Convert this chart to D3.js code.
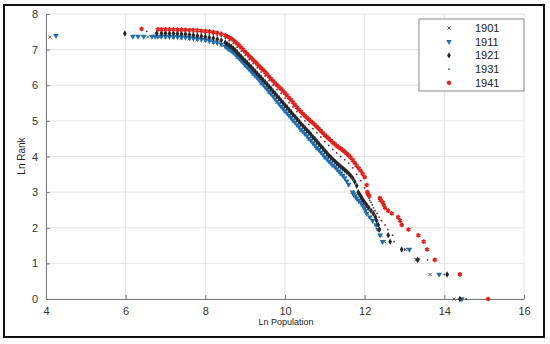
<!DOCTYPE html>
<html>
<head>
<meta charset="utf-8">
<script src="https://cdn.jsdelivr.net/npm/d3@7"></script>
<style>
  body { margin: 0; background: #fff; }
  text { font-family: "Liberation Sans", Arial, sans-serif; }
  .axis path, .axis line { stroke: #7a7a7a; }
  .axis text { fill: #333; font-size: 11px; }
  .grid line { stroke: #e4e4e4; }
</style>
</head>
<body>
<svg id="chart" width="550" height="344"></svg>
<script>
// years shown in the legend
const years = ["1901", "1911", "1921", "1931", "1941"];
const xTicks = [4, 6, 8, 10, 12, 14, 16];
const yTicks = [0, 1, 2, 3, 4, 5, 6, 7, 8];

// ln(rank) of the 20 largest towns, shared by all years
const tailLnRank = [0, 0.69, 1.10, 1.39, 1.61, 1.79, 1.95, 2.08, 2.20, 2.30,
                    2.40, 2.48, 2.56, 2.64, 2.71, 2.77, 2.83, 2.89, 2.94, 3.00];
// ln(population) of those 20 towns, per year
const tail1901 = [14.24, 13.64, 13.29, 13.03, 12.50, 12.40, 12.33, 12.27, 12.20, 12.12,
                  12.07, 12.02, 11.97, 11.93, 11.88, 11.84, 11.80, 11.76, 11.72, 11.68];
const tail1911 = [14.44, 13.87, 13.33, 13.12, 12.45, 12.39, 12.34, 12.29, 12.20, 12.13,
                  12.05, 12.02, 12.00, 11.95, 11.90, 11.85, 11.80, 11.76, 11.72, 11.70];
const tail1921 = [14.39, 14.07, 13.33, 12.93, 12.64, 12.59, 12.37, 12.34, 12.30, 12.27,
                  12.22, 12.16, 12.10, 12.05, 12.00, 11.96, 11.93, 11.90, 11.87, 11.84];
const tail1931 = [14.55, 14.00, 13.58, 13.01, 12.74, 12.70, 12.58, 12.51, 12.42, 12.36,
                  12.31, 12.26, 12.22, 12.19, 12.16, 12.13, 12.11, 12.08, 12.06, 12.04];
const tail1941 = [15.10, 14.39, 13.76, 13.57, 13.48, 13.35, 13.10, 12.93, 12.89, 12.84,
                  12.68, 12.59, 12.51, 12.48, 12.46, 12.40, 12.38, 12.12, 12.09, 12.07];

// the rest of the towns: [ln population, ln rank]
const body1901 = [[4.10,7.35],[6.56,7.36],[6.85,7.35],[7.0,7.35],[7.2,7.34],[7.4,7.33],[7.6,7.31],
  [7.8,7.28],[8.0,7.25],[8.2,7.20],[8.4,7.13],[8.6,6.99],[8.8,6.79],[9.0,6.55],[9.2,6.31],
  [9.4,6.06],[9.6,5.80],[9.8,5.53],[10.0,5.26],[10.2,5.00],[10.4,4.74],[10.6,4.49],[10.8,4.23],
  [11.0,3.97],[11.2,3.74],[11.4,3.51],[11.6,3.20]];
const body1911 = [[4.25,7.39],[6.18,7.37],[6.31,7.37],[6.45,7.37],[6.66,7.37],[6.74,7.37],[6.8,7.37],
  [6.9,7.37],[7.0,7.37],[7.1,7.365],[7.2,7.36],[7.3,7.355],[7.4,7.35],[7.5,7.34],[7.6,7.33],
  [7.7,7.315],[7.8,7.30],[7.9,7.285],[8.0,7.27],[8.1,7.245],[8.2,7.22],[8.3,7.19],[8.4,7.15],
  [8.5,7.09],[8.6,7.01],[8.7,6.92],[8.8,6.81],[8.9,6.69],[9.0,6.57],[9.1,6.45],[9.2,6.33],
  [9.3,6.21],[9.4,6.08],[9.5,5.95],[9.6,5.82],[9.7,5.69],[9.8,5.55],[9.9,5.41],[10.0,5.28],
  [10.1,5.15],[10.2,5.02],[10.3,4.89],[10.4,4.76],[10.5,4.64],[10.6,4.51],[10.7,4.38],[10.8,4.25],
  [10.9,4.12],[11.0,3.99],[11.1,3.87],[11.2,3.76],[11.3,3.65],[11.4,3.53],[11.5,3.40],[11.6,3.22],
  [8.55,7.05],[8.65,6.97],[8.75,6.87],[8.85,6.75],[8.95,6.63],[9.05,6.51],[9.15,6.39],[9.25,6.27],
  [9.35,6.15],[9.45,6.02],[9.55,5.89],[9.65,5.76],[9.75,5.62],[9.85,5.48],[9.95,5.35],[10.05,5.22],
  [10.15,5.09],[10.25,4.96],[10.35,4.83],[10.45,4.70],[10.55,4.58],[10.65,4.45],[10.75,4.32],
  [10.85,4.19],[10.95,4.06],[11.05,3.93],[11.15,3.82],[11.25,3.71],[11.35,3.59],[11.45,3.47],[11.55,3.31]];
const body1921 = [[5.98,7.45],[6.78,7.46],[6.9,7.46],[7.0,7.46],[7.1,7.455],[7.2,7.45],[7.3,7.445],
  [7.4,7.44],[7.5,7.43],[7.6,7.42],[7.7,7.405],[7.8,7.39],[7.9,7.375],[8.0,7.36],[8.1,7.34],
  [8.2,7.32],[8.3,7.29],[8.4,7.26],[8.5,7.20],[8.6,7.12],[8.7,7.03],[8.8,6.92],[8.9,6.80],
  [9.0,6.68],[9.1,6.57],[9.2,6.45],[9.3,6.33],[9.4,6.21],[9.5,6.09],[9.6,5.96],[9.7,5.83],
  [9.8,5.70],[9.9,5.57],[10.0,5.44],[10.1,5.31],[10.2,5.18],[10.3,5.05],[10.4,4.92],[10.5,4.80],
  [10.6,4.68],[10.7,4.55],[10.8,4.42],[10.9,4.29],[11.0,4.16],[11.1,4.03],[11.2,3.92],[11.3,3.81],
  [11.4,3.71],[11.5,3.62],[11.6,3.52],[11.7,3.39],[11.8,3.18],
  [8.55,7.16],[8.65,7.08],[8.75,6.98],[8.85,6.86],[8.95,6.74],[9.05,6.63],[9.15,6.51],[9.25,6.39],
  [9.35,6.27],[9.45,6.15],[9.55,6.03],[9.65,5.90],[9.75,5.77],[9.85,5.64],[9.95,5.51],[10.05,5.38],
  [10.15,5.25],[10.25,5.12],[10.35,4.99],[10.45,4.86],[10.55,4.74],[10.65,4.62],[10.75,4.49],
  [10.85,4.36],[10.95,4.23],[11.05,4.10],[11.15,3.98],[11.25,3.87],[11.35,3.76],[11.45,3.67],
  [11.55,3.57],[11.65,3.46],[11.75,3.29]];
const body1931 = [[6.53,7.51],[6.9,7.52],[7.0,7.52],[7.1,7.52],[7.2,7.52],[7.3,7.515],[7.4,7.51],
  [7.5,7.505],[7.6,7.50],[7.7,7.49],[7.8,7.48],[7.9,7.47],[8.0,7.46],[8.1,7.44],[8.2,7.42],
  [8.3,7.40],[8.4,7.37],[8.5,7.32],[8.6,7.25],[8.7,7.17],[8.8,7.07],[8.9,6.96],[9.0,6.84],
  [9.1,6.72],[9.2,6.61],[9.3,6.49],[9.4,6.37],[9.5,6.26],[9.6,6.13],[9.7,6.00],[9.8,5.88],
  [9.9,5.77],[10.0,5.64],[10.1,5.51],[10.2,5.39],[10.3,5.26],[10.4,5.11],[10.5,5.00],[10.6,4.90],
  [10.7,4.78],[10.8,4.67],[10.9,4.55],[11.0,4.42],[11.1,4.31],[11.2,4.20],[11.3,4.10],[11.4,4.00],
  [11.5,3.91],[11.6,3.81],[11.7,3.68],[11.8,3.50],[11.9,3.32],[12.0,3.12]];
const body1941 = [[6.40,7.58],[6.81,7.57],[6.9,7.57],[7.0,7.57],[7.1,7.57],[7.2,7.565],[7.3,7.56],
  [7.4,7.56],[7.5,7.555],[7.6,7.55],[7.7,7.55],[7.8,7.54],[7.9,7.53],[8.0,7.52],[8.1,7.51],
  [8.2,7.49],[8.3,7.47],[8.4,7.44],[8.5,7.40],[8.6,7.34],[8.7,7.27],[8.8,7.17],[8.9,7.06],
  [9.0,6.94],[9.1,6.82],[9.2,6.71],[9.3,6.60],[9.4,6.48],[9.5,6.37],[9.6,6.24],[9.7,6.12],
  [9.8,6.00],[9.9,5.90],[10.0,5.78],[10.1,5.65],[10.2,5.52],[10.3,5.38],[10.4,5.26],[10.5,5.14],
  [10.6,5.04],[10.7,4.94],[10.8,4.83],[10.9,4.72],[11.0,4.60],[11.1,4.50],[11.2,4.39],[11.3,4.30],
  [11.4,4.22],[11.5,4.13],[11.6,4.03],[11.7,3.90],[11.8,3.74],[11.9,3.60],[12.0,3.42],[12.05,3.20],
  [8.55,7.37],[8.65,7.31],[8.75,7.22],[8.85,7.12],[8.95,7.00],[9.05,6.88],[9.15,6.77],[9.25,6.66],
  [9.35,6.54],[9.45,6.43],[9.55,6.31],[9.65,6.18],[9.75,6.06],[9.85,5.95],[9.95,5.84],[10.05,5.72],
  [10.15,5.59],[10.25,5.45],[10.35,5.32],[10.45,5.20],[10.55,5.09],[10.65,4.99],[10.75,4.89],
  [10.85,4.78],[10.95,4.66],[11.05,4.55],[11.15,4.45],[11.25,4.35],[11.35,4.26],[11.45,4.18],
  [11.55,4.08],[11.65,3.97],[11.75,3.82],[11.85,3.67],[11.95,3.51]];

let bodies = [body1901, body1911, body1921, body1931, body1941];
let tails = [tail1901, tail1911, tail1921, tail1931, tail1941];

// marker look for each year
let styles = [
  { type: d3.symbolTimes,    size: 8,  fill: "none",    stroke: "#4a4a4a", sw: 0.9, rot: 0 },
  { type: d3.symbolTriangle, size: 14, fill: "#1f6fb0", stroke: "none",    sw: 0,   rot: 180 },
  { type: d3.symbolDiamond,  size: 12, fill: "#262626", stroke: "none",    sw: 0,   rot: 0 },
  { type: d3.symbolCircle,   size: 2.5, fill: "#6e2a3c", stroke: "none",   sw: 0,   rot: 0 },
  { type: d3.symbolAsterisk, size: 15, fill: "none",    stroke: "#e0201b", sw: 1.5, rot: 0 }
];

let svg = d3.select("#chart");

// outer frame
svg.append("rect")
  .attr("x", 4).attr("y", 5)
  .attr("width", 540).attr("height", 332)
  .style("fill", "none")
  .style("stroke", "#111")
  .style("stroke-width", "2px");

let xScale = d3.scaleLinear().domain([4, 16]).range([46, 524]);
let yScale = d3.scaleLinear().domain([0, 8]).range([299, 14]);

// grid
svg.append("g").attr("class", "grid")
  .selectAll("line.v").data(xTicks).enter().append("line")
  .attr("x1", d => xScale(d)).attr("x2", d => xScale(d))
  .attr("y1", yScale(0)).attr("y2", yScale(8));
svg.append("g").attr("class", "grid")
  .selectAll("line.h").data(yTicks).enter().append("line")
  .attr("x1", xScale(4)).attr("x2", xScale(16))
  .attr("y1", d => yScale(d)).attr("y2", d => yScale(d));

// axes with ticks pointing inward
let bottomAxis = d3.axisBottom(xScale).tickValues(xTicks).tickSizeInner(-4).tickSizeOuter(0).tickPadding(8);
let leftAxis = d3.axisLeft(yScale).tickValues(yTicks).tickSizeInner(-4).tickSizeOuter(0).tickPadding(8);

svg.append("g")
  .attr("class", "axis")
  .attr("transform", "translate(0," + yScale(0) + ")")
  .call(bottomAxis);
svg.append("g")
  .attr("class", "axis")
  .attr("transform", "translate(" + xScale(4) + ",0)")
  .call(leftAxis);

// points
let marks = svg.append("g");
bodies.forEach((body, i) => {
  let st = styles[i];
  let pts = body.concat(tails[i].map((p, k) => [p, tailLnRank[k]]));
  marks.append("g")
    .selectAll("path").data(pts).enter().append("path")
    .attr("d", d3.symbol().type(st.type).size(st.size))
    .attr("transform", d => "translate(" + xScale(d[0]) + "," + yScale(d[1]) + ") rotate(" + st.rot + ")")
    .style("fill", st.fill)
    .style("stroke", st.stroke)
    .style("stroke-width", st.sw);
});

// axis labels
svg.append("text")
  .attr("x", 286).attr("y", 325)
  .attr("text-anchor", "middle")
  .style("font-size", "9px")
  .style("fill", "#222")
  .text("Ln Population");
svg.append("text")
  .attr("transform", "translate(25,156) rotate(-90)")
  .attr("text-anchor", "middle")
  .style("font-size", "10px")
  .style("fill", "#222")
  .text("Ln Rank");

// legend
let legend = svg.append("g");
legend.append("rect")
  .attr("x", 419).attr("y", 19)
  .attr("width", 105).attr("height", 72)
  .style("fill", "#fff")
  .style("stroke", "#8a8a8a")
  .style("stroke-width", "1px");
years.forEach((y, i) => {
  let st = styles[i];
  let cy = 28 + i * 13.7;
  legend.append("path")
    .attr("d", d3.symbol().type(st.type).size(st.size))
    .attr("transform", "translate(449," + cy + ") rotate(" + st.rot + ")")
    .style("fill", st.fill)
    .style("stroke", st.stroke)
    .style("stroke-width", st.sw);
  legend.append("text")
    .attr("x", 475).attr("y", cy + 4)
    .style("font-size", "11px")
    .style("fill", "#222")
    .text(y);
});
</script>
</body>
</html>
